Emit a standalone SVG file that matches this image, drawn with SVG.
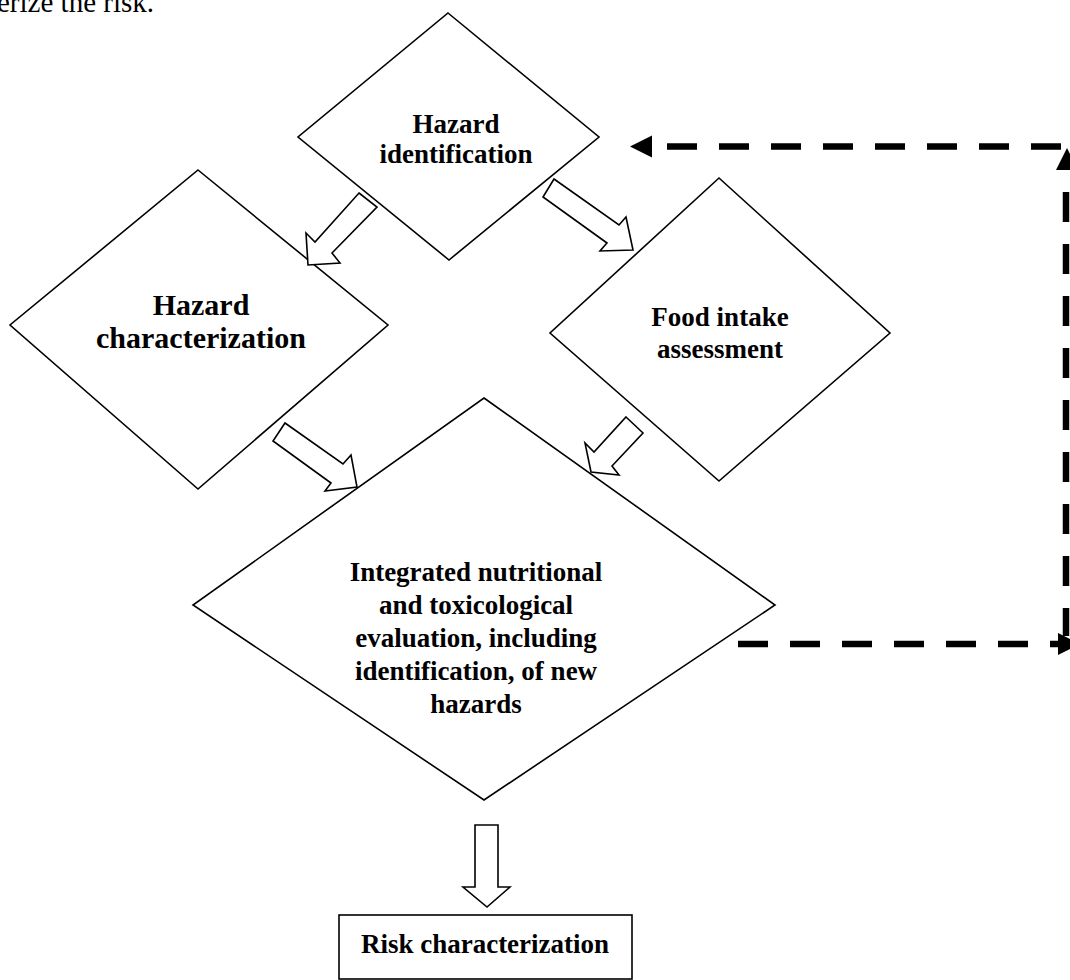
<svg xmlns="http://www.w3.org/2000/svg" width="1070" height="980" viewBox="0 0 1070 980">
  <style>
    .shape { fill: #ffffff; stroke: #000000; stroke-width: 1.6; stroke-linejoin: miter; }
    .blk { fill: #ffffff; stroke: #000000; stroke-width: 1.6; stroke-linejoin: miter; }
    .lbl { font-family: "Liberation Serif", "Times New Roman", serif; font-weight: bold; font-size: 27px; fill: #000000; text-anchor: middle; }
    .big { font-size: 30px; }
    .body { font-family: "Liberation Serif", "Times New Roman", serif; font-size: 29px; fill: #000000; }
    .dash { fill: none; stroke: #000000; stroke-width: 6.5; stroke-dasharray: 30 22; }
  </style>
  <defs>
    <path id="head" d="M0,0 L-22,-11 L-22,11 Z" fill="#000000"/>
  </defs>

  <rect x="0" y="0" width="1070" height="980" fill="#ffffff"/>

  <text class="body" x="-3" y="12">erize the risk.</text>

  <g id="node-hazard-identification">
    <polygon class="shape" points="448,13 599,137 449,260 298,137"/>
    <text class="lbl" x="456" y="133">Hazard</text>
    <text class="lbl" x="456" y="163">identification</text>
  </g>

  <g id="node-hazard-characterization">
    <polygon class="shape" points="198,170 388,325 198,489 10,325"/>
    <text class="lbl big" x="201" y="315">Hazard</text>
    <text class="lbl big" x="201" y="348">characterization</text>
  </g>

  <g id="node-food-intake">
    <polygon class="shape" points="719,178 890,333 719,481 550,333"/>
    <text class="lbl" x="720" y="326">Food intake</text>
    <text class="lbl" x="720" y="358">assessment</text>
  </g>

  <g id="node-integrated">
    <polygon class="shape" points="484,398 775,605 484,800 193,605"/>
    <text class="lbl" x="476" y="581">Integrated nutritional</text>
    <text class="lbl" x="476" y="614">and toxicological</text>
    <text class="lbl" x="476" y="647">evaluation, including</text>
    <text class="lbl" x="476" y="680">identification, of new</text>
    <text class="lbl" x="476" y="713">hazards</text>
  </g>

  <g id="node-risk-characterization">
    <rect class="shape" x="339" y="915" width="293" height="64"/>
    <text class="lbl" x="485" y="953">Risk characterization</text>
  </g>

  <g id="connectors">
    <polygon class="blk" points="359,193 377,207 332,253 340,263 308,265 306,233 315,242"/>
    <polygon class="blk" points="554,179 619,225 626,217 633,250 600,251 607,243 543,197"/>
    <polygon class="blk" points="285,423 343,464 351,455 357,487 325,491 331,483 273,441"/>
    <polygon class="blk" points="626,417 643,433 612,466 619,475 591,472 585,443 594,452"/>
    <polygon class="blk" points="475,825 498,825 498,887 510,887 487,907 463,887 475,887"/>

    <path class="dash" d="M738,644 H1060"/>
    <use href="#head" transform="translate(1080,644)"/>
    <path class="dash" d="M1066,192 V636"/>
    <use href="#head" transform="translate(1067,148) rotate(-90)"/>
    <path class="dash" d="M667,146.5 H1062"/>
    <use href="#head" transform="translate(630,146.5) rotate(180)"/>
  </g>
</svg>
